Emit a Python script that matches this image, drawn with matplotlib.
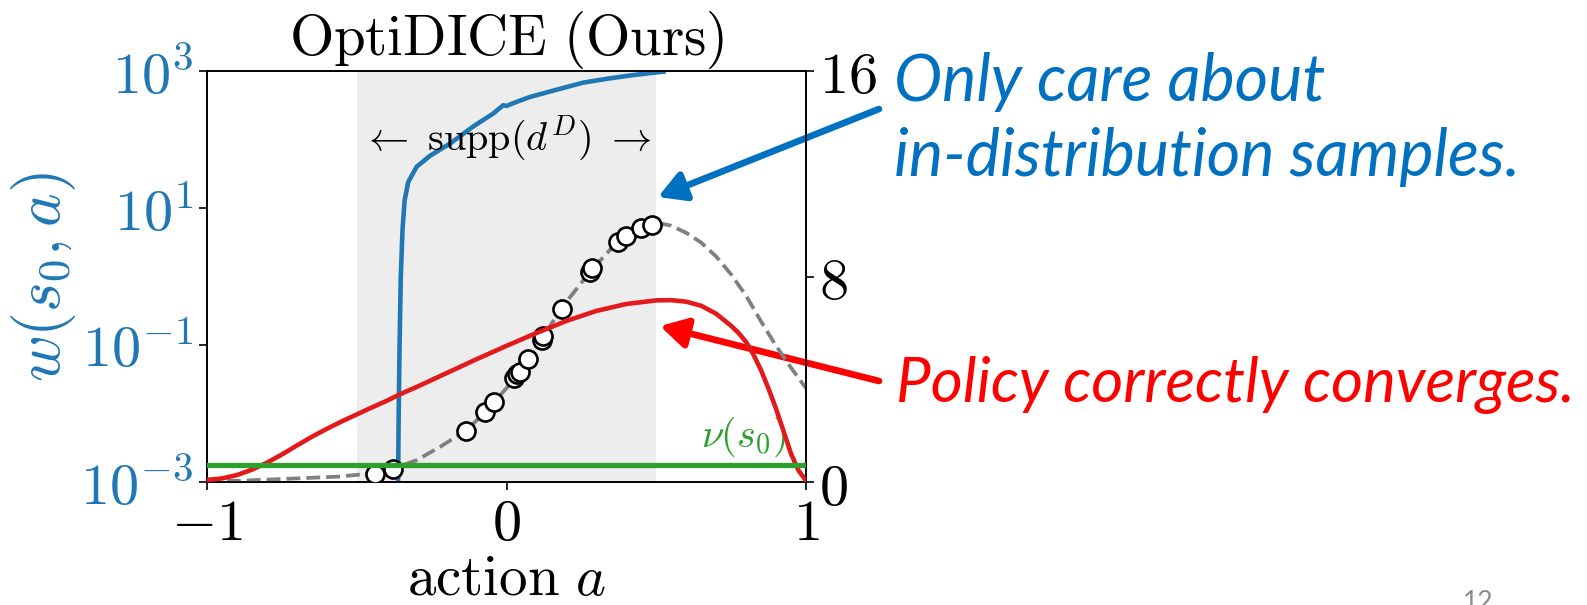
import matplotlib
matplotlib.use("Agg")
import matplotlib.pyplot as plt
from matplotlib.patches import FancyArrowPatch, ArrowStyle
from matplotlib.ticker import FixedLocator, FixedFormatter, NullLocator

plt.rcParams['mathtext.fontset'] = 'cm'

# w(s0, a) on the log axis
blue_x = [-0.366, -0.362, -0.360, -0.357, -0.353, -0.347, -0.340, -0.328, -0.300, -0.255,
          -0.189, -0.111, -0.044, -0.011, 0.000, 0.040, 0.078, 0.170, 0.256, 0.340,
          0.423, 0.480, 0.524]
blue_w = [1e-4, 1e-3, 1e-2, 0.1, 1.0, 5.0, 13, 24, 40, 58,
          87, 155, 240, 316, 309, 363, 417, 537, 676, 776,
          871, 933, 977]

# policy density (right axis)
red_x = [-1.0, -0.95, -0.9, -0.85, -0.8, -0.75, -0.7, -0.65, -0.6, -0.55,
         -0.5, -0.45, -0.4, -0.355, -0.3, -0.2, -0.1, 0.0, 0.1, 0.2,
         0.3, 0.4, 0.5, 0.55, 0.6, 0.65, 0.7, 0.75, 0.775, 0.8,
         0.825, 0.85, 0.875, 0.9, 0.925, 0.95, 0.975, 1.0]
red_y = [0.08, 0.14, 0.27, 0.48, 0.75, 1.07, 1.42, 1.76, 2.07, 2.36,
         2.63, 2.90, 3.16, 3.42, 3.70, 4.24, 4.78, 5.30, 5.80, 6.27,
         6.66, 6.93, 7.07, 7.08, 7.02, 6.86, 6.55, 6.08, 5.80, 5.45,
         4.95, 4.35, 3.63, 2.85, 1.98, 1.10, 0.45, 0.05]

# reward function (dashed) and dataset samples
dash_x = [-1.0, -0.89, -0.72, -0.56, -0.48, -0.44, -0.38, -0.30, -0.22, -0.136,
          -0.07, -0.04, 0.03, 0.07, 0.12, 0.18, 0.28, 0.37, 0.45, 0.50,
          0.52, 0.55, 0.6, 0.65, 0.7, 0.75, 0.8, 0.85, 0.9, 0.95, 1.0]
dash_y = [0.05, 0.05, 0.13, 0.21, 0.30, 0.36, 0.52, 0.85, 1.38, 2.0,
          2.72, 3.13, 4.05, 4.75, 5.58, 6.72, 8.2, 9.35, 9.87, 10.02,
          10.05, 9.98, 9.7, 9.32, 8.78, 8.08, 7.25, 6.25, 5.3, 4.45, 3.65]
data_x = [-0.439, -0.380, -0.136, -0.072, -0.041, 0.026, 0.035, 0.045, 0.072, 0.117,
          0.121, 0.184, 0.279, 0.285, 0.373, 0.399, 0.448, 0.485]
data_y = [0.31, 0.52, 2.00, 2.71, 3.13, 4.03, 4.20, 4.30, 4.78, 5.53,
          5.68, 6.72, 8.19, 8.32, 9.35, 9.58, 9.87, 10.0]

nu_s0 = 0.65
supp = (-0.5, 0.5)

left_ticks = [1e-3, 1e-1, 1e1, 1e3]
left_labels = [r'$10^{-3}$', r'$10^{-1}$', r'$10^{1}$', r'$10^{3}$']
right_ticks = [0, 8, 16]
x_ticks = [-1, 0, 1]

W, H = 1587, 605
fig = plt.figure(figsize=(W / 100, H / 100), dpi=100)
ax = fig.add_axes([207 / W, 1 - 482 / H, 599 / W, 411 / H])

ax.axvspan(supp[0], supp[1], color='#ededed', lw=0, zorder=0)
ax.plot(blue_x, blue_w, color='#1f77b4', lw=3.3, zorder=2)
ax.set_yscale('log')
ax.set_ylim(1e-3, 1e3)
ax.set_xlim(-1, 1)
ax.yaxis.set_major_locator(FixedLocator(left_ticks))
ax.yaxis.set_major_formatter(FixedFormatter(left_labels))
ax.yaxis.set_minor_locator(NullLocator())
ax.set_xticks(x_ticks)
ax.set_xticklabels([r'$-1$', r'$0$', r'$1$'])
ax.tick_params(axis='both', labelsize=42, length=6, width=1.2)
ax.tick_params(axis='y', labelcolor='#1f77b4')
ax.set_ylabel(r'$w(s_0, a)$', fontsize=46, color='#1f77b4', labelpad=2)
ax.set_xlabel(r'$\mathrm{action}\ a$', fontsize=41, labelpad=0)
ax.set_title(r'$\mathrm{OptiDICE\ (Ours)}$', fontsize=41, pad=4)
ax.text(0, 105, r'$\leftarrow\ \mathrm{supp}(d^D)\ \rightarrow$', fontsize=29,
        ha='center', va='center')

ax2 = ax.twinx()
ax2.plot(dash_x, dash_y, '--', color='gray', lw=2.7, zorder=2)
ax2.plot(data_x, data_y, 'o', ms=13, mfc='white', mec='black', mew=1.9, zorder=3)
ax2.plot(red_x, red_y, color='#e31a1c', lw=3.3, zorder=4)
ax2.axhline(nu_s0, color='#2ca02c', lw=3.8, zorder=4)
ax2.text(0.79, 1.75, r'$\nu(s_0)$', color='#2ca02c', fontsize=29, ha='center', va='center')
ax2.set_ylim(0, 16)
ax2.set_yticks(right_ticks)
ax2.set_yticklabels([r'$0$', r'$8$', r'$16$'])
ax2.tick_params(axis='y', labelsize=42, length=6, width=1.2)
ax2.set_zorder(ax.get_zorder() + 1)
ax2.patch.set_visible(False)
for a in (ax, ax2):
    for s in a.spines.values():
        s.set_linewidth(1.2)


# callout arrows and text in figure pixels (top-left origin)
def fpt(x, y):
    return (x / W, 1 - y / H)


for tail, tip, col in [((879, 109), (658, 197), '#0070c0'),
                       ((879, 381), (660, 326), '#ff0000')]:
    arr = FancyArrowPatch(fpt(*tail), fpt(*tip), transform=fig.transFigure,
                          arrowstyle=ArrowStyle('-|>', head_length=16, head_width=9),
                          mutation_scale=1, lw=4.8, color=col, shrinkA=0, shrinkB=0)
    fig.add_artist(arr)

blue_font = dict(family='Lato', style='italic', fontsize=46.5)
fig.text(*fpt(894, 101), 'Only care about', color='#0070c0', va='baseline', **blue_font)
fig.text(*fpt(894, 176), 'in-distribution samples.', color='#0070c0', va='baseline', **blue_font)
fig.text(*fpt(896, 402), 'Policy correctly converges.', color='#ff0000', va='baseline',
         family='Lato', style='italic', fontsize=44.5)
fig.text(*fpt(1463, 590), '12', color='#8c8c8c', fontsize=19, va='top', family='Lato')

fig.savefig('out.png', dpi=100)
